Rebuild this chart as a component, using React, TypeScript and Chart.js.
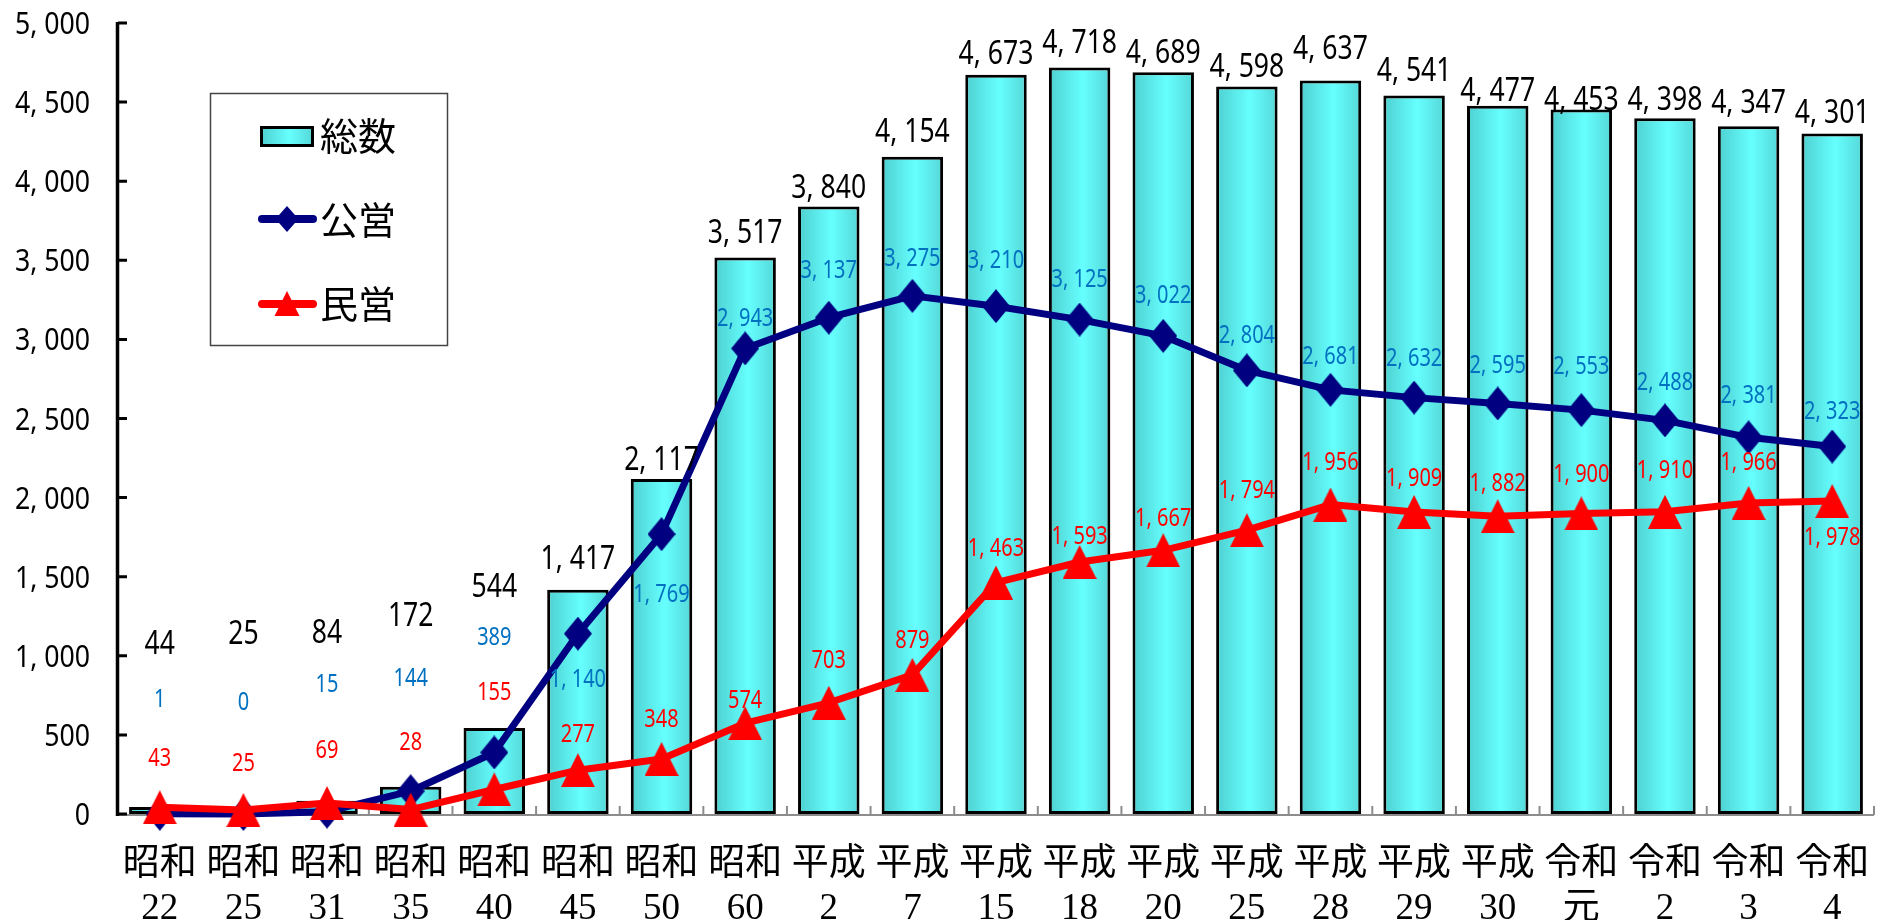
import React, { useEffect, useRef } from 'react';
import { Chart, registerables } from 'chart.js';

Chart.register(...registerables);

// ---- data ----
const ERA = ['昭和', '昭和', '昭和', '昭和', '昭和', '昭和', '昭和', '昭和', '平成', '平成', '平成', '平成', '平成', '平成', '平成', '平成', '平成', '令和', '令和', '令和', '令和'];
const YEAR = ['22', '25', '31', '35', '40', '45', '50', '60', '2', '7', '15', '18', '20', '25', '28', '29', '30', '元', '2', '3', '4'];
const TOTAL = [44, 25, 84, 172, 544, 1417, 2117, 3517, 3840, 4154, 4673, 4718, 4689, 4598, 4637, 4541, 4477, 4453, 4398, 4347, 4301];
const PUBLIC = [1, 0, 15, 144, 389, 1140, 1769, 2943, 3137, 3275, 3210, 3125, 3022, 2804, 2681, 2632, 2595, 2553, 2488, 2381, 2323];
const PRIVATE = [43, 25, 69, 28, 155, 277, 348, 574, 703, 879, 1463, 1593, 1667, 1794, 1956, 1909, 1882, 1900, 1910, 1966, 1978];
const Y_TICKS = [0, 500, 1000, 1500, 2000, 2500, 3000, 3500, 4000, 4500, 5000];
const SERIES_NAMES = ['総数', '公営', '民営'];

// label placement (in value units of the y axis)
const TOTAL_LABEL_AT = [1086, 1149, 1154, 1261, 1444, 1620, 2245, 3682, 3966, 4319, 4811, 4880, 4817, 4729, 4847, 4705, 4577, 4523, 4523, 4502, 4439];
const PUBLIC_LABEL_AT = [733, 712, 828, 866, 1122, 857, 1395, 3140, 3443, 3518, 3505, 3388, 3287, 3033, 2900, 2888, 2843, 2837, 2736, 2654, 2553];
const PRIVATE_LABEL_AT = [361, 328, 410, 462, 777, 511, 605, 729, 982, 1108, 1690, 1765, 1875, 2055, 2232, 2127, 2095, 2156, 2181, 2232, 1759];

const NAVY = '#000080';
const RED = '#FF0000';
const BLUE_LABEL = '#0070C0';
const NUM_FONT = "'Noto Sans', 'DejaVu Sans', sans-serif";
const JP_SERIF = "'Liberation Serif', 'Noto Sans CJK JP', serif";
const JP_SANS = "'Noto Sans CJK JP', sans-serif";

const fmt = (n: number) => n.toLocaleString('en-US').replace(',', ', ');

function narrowText(ctx: CanvasRenderingContext2D, text: string, x: number, cy: number, size: number, sx: number, color: string, align: CanvasTextAlign = 'center') {
  ctx.save();
  ctx.font = `${size}px ${NUM_FONT}`;
  ctx.fillStyle = color;
  ctx.textAlign = align;
  ctx.textBaseline = 'alphabetic';
  ctx.translate(x, cy + size * 0.357);
  ctx.scale(sx, 1);
  ctx.fillText(text, 0, 0);
  ctx.restore();
}

function barGradient(ctx: CanvasRenderingContext2D, x0: number, x1: number) {
  const g = ctx.createLinearGradient(x0, 0, x1, 0);
  g.addColorStop(0, '#4ecfcf');
  g.addColorStop(0.55, '#66ffff');
  g.addColorStop(1, '#55d6d6');
  return g;
}

function triPath(ctx: CanvasRenderingContext2D, cx: number, cy: number, w: number, h: number) {
  ctx.beginPath();
  ctx.moveTo(cx, cy - h / 2);
  ctx.lineTo(cx + w / 2, cy + h / 2);
  ctx.lineTo(cx - w / 2, cy + h / 2);
  ctx.closePath();
}

function diaPath(ctx: CanvasRenderingContext2D, cx: number, cy: number, w: number, h: number) {
  ctx.beginPath();
  ctx.moveTo(cx, cy - h / 2);
  ctx.lineTo(cx + w / 2, cy);
  ctx.lineTo(cx, cy + h / 2);
  ctx.lineTo(cx - w / 2, cy);
  ctx.closePath();
}

function markerCanvas(kind: 'tri' | 'dia', w: number, h: number, color: string) {
  const c = document.createElement('canvas');
  c.width = w;
  c.height = h;
  const g = c.getContext('2d')!;
  g.fillStyle = color;
  if (kind === 'tri') triPath(g, w / 2, h / 2, w, h);
  else diaPath(g, w / 2, h / 2, w, h);
  g.fill();
  return c;
}

const customDraw = {
  id: 'customDraw',
  beforeDatasetsDraw(chart: any) {
    const { ctx, chartArea: a, scales } = chart;
    const xs = scales.x;
    const ys = scales.y;
    // bar gradient fill
    const meta = chart.getDatasetMeta(2);
    meta.data.forEach((el: any) => {
      const p = el.getProps(['x', 'width'], true);
      el.options = Object.assign({}, el.options, { backgroundColor: barGradient(ctx, p.x - p.width / 2, p.x + p.width / 2) });
    });
    ctx.save();
    // x axis
    ctx.strokeStyle = '#8c8c8c';
    ctx.lineWidth = 2;
    ctx.beginPath();
    ctx.moveTo(a.left, a.bottom + 1);
    ctx.lineTo(a.right, a.bottom + 1);
    const half = (xs.getPixelForValue(1) - xs.getPixelForValue(0)) / 2;
    for (let i = 0; i < TOTAL.length; i++) {
      const bx = xs.getPixelForValue(i) + half;
      ctx.moveTo(bx, a.bottom + 1);
      ctx.lineTo(bx, a.bottom - 8);
    }
    ctx.stroke();
    // y axis
    ctx.strokeStyle = '#000';
    ctx.lineWidth = 3.5;
    ctx.beginPath();
    ctx.moveTo(a.left - 0.5, a.top - 1);
    ctx.lineTo(a.left - 0.5, a.bottom + 2);
    ctx.stroke();
    ctx.lineWidth = 3;
    ctx.beginPath();
    Y_TICKS.forEach((v) => {
      const py = ys.getPixelForValue(v);
      ctx.moveTo(a.left, py);
      ctx.lineTo(a.left + 9, py);
    });
    ctx.stroke();
    ctx.restore();
  },
  afterDatasetsDraw(chart: any) {
    const { ctx, scales } = chart;
    const xs = scales.x;
    const ys = scales.y;
    // y tick labels
    Y_TICKS.forEach((v) => {
      narrowText(ctx, fmt(v), 90, ys.getPixelForValue(v), 31, 0.86, '#000', 'right');
    });
    // x labels
    ctx.save();
    ctx.fillStyle = '#000';
    ctx.textAlign = 'center';
    ctx.textBaseline = 'alphabetic';
    ctx.font = `37px ${JP_SERIF}`;
    for (let i = 0; i < TOTAL.length; i++) {
      const cx = xs.getPixelForValue(i);
      ctx.fillText(ERA[i], cx, 875);
      ctx.fillText(YEAR[i], cx, 919);
    }
    ctx.restore();
    // data labels
    for (let i = 0; i < TOTAL.length; i++) {
      const cx = xs.getPixelForValue(i);
      narrowText(ctx, fmt(TOTAL[i]), cx, ys.getPixelForValue(TOTAL_LABEL_AT[i]), 32, 0.83, '#000');
      narrowText(ctx, fmt(PUBLIC[i]), cx, ys.getPixelForValue(PUBLIC_LABEL_AT[i]), 25, 0.8, BLUE_LABEL);
      narrowText(ctx, fmt(PRIVATE[i]), cx, ys.getPixelForValue(PRIVATE_LABEL_AT[i]), 25, 0.8, RED);
    }
    // legend
    ctx.save();
    ctx.fillStyle = '#fff';
    ctx.fillRect(210, 93, 238, 253);
    ctx.strokeStyle = '#444';
    ctx.lineWidth = 1.5;
    ctx.strokeRect(210.5, 93.5, 237, 252);
    // 総数 swatch
    ctx.fillStyle = barGradient(ctx, 261, 313);
    ctx.fillRect(261, 127, 52, 19);
    ctx.strokeStyle = '#000';
    ctx.lineWidth = 3;
    ctx.strokeRect(261.5, 127.5, 51, 18);
    // 公営
    ctx.lineCap = 'round';
    ctx.lineWidth = 8;
    ctx.strokeStyle = NAVY;
    ctx.beginPath();
    ctx.moveTo(262, 219);
    ctx.lineTo(313, 219);
    ctx.stroke();
    ctx.fillStyle = NAVY;
    diaPath(ctx, 287, 219, 23, 26);
    ctx.fill();
    // 民営
    ctx.strokeStyle = RED;
    ctx.beginPath();
    ctx.moveTo(262, 304);
    ctx.lineTo(313, 304);
    ctx.stroke();
    ctx.fillStyle = RED;
    triPath(ctx, 287, 303.5, 25, 25);
    ctx.fill();
    ctx.fillStyle = '#000';
    ctx.font = `38px ${JP_SANS}`;
    ctx.textAlign = 'left';
    ctx.textBaseline = 'alphabetic';
    ctx.fillText(SERIES_NAMES[0], 320, 150);
    ctx.fillText(SERIES_NAMES[1], 320, 234);
    ctx.fillText(SERIES_NAMES[2], 320, 318);
    ctx.restore();
  },
};

export default function App() {
  const ref = useRef<HTMLCanvasElement>(null);
  useEffect(() => {
    const canvas = ref.current;
    if (!canvas) return;
    const tri = markerCanvas('tri', 34, 34, RED);
    const dia = markerCanvas('dia', 28, 34, NAVY);
    const chart = new Chart(canvas, {
      type: 'bar',
      data: {
        labels: ERA.map((e, i) => e + YEAR[i]),
        datasets: [
          {
            type: 'line',
            label: SERIES_NAMES[2],
            data: PRIVATE,
            borderColor: RED,
            backgroundColor: RED,
            borderWidth: 7,
            borderJoinStyle: 'round',
            pointStyle: tri as any,
            pointRadius: 16,
            tension: 0,
            clip: false as any,
            order: 0,
          } as any,
          {
            type: 'line',
            label: SERIES_NAMES[1],
            data: PUBLIC,
            borderColor: NAVY,
            backgroundColor: NAVY,
            borderWidth: 7,
            borderJoinStyle: 'round',
            pointStyle: dia as any,
            pointRadius: 16,
            tension: 0,
            clip: false as any,
            order: 1,
          } as any,
          {
            type: 'bar',
            label: SERIES_NAMES[0],
            data: TOTAL,
            backgroundColor: '#66ffff',
            borderColor: '#000',
            borderWidth: 3,
            borderSkipped: false,
            barPercentage: 0.735,
            categoryPercentage: 1,
            order: 2,
          } as any,
        ],
      },
      options: {
        animation: false,
        responsive: false,
        devicePixelRatio: 1,
        events: [],
        layout: { padding: { left: 118, top: 21, right: 9, bottom: 106 } },
        plugins: { legend: { display: false }, tooltip: { enabled: false } },
        scales: {
          x: { display: false },
          y: { display: false, min: 0, max: 5000 },
        },
      },
      plugins: [customDraw],
    });
    return () => chart.destroy();
  }, []);
  return (
    <div style={{ position: 'fixed', left: 0, top: 0, width: 1897, height: 920, background: '#fff' }}>
      <canvas ref={ref} width={1897} height={920} style={{ display: 'block' }} />
    </div>
  );
}
